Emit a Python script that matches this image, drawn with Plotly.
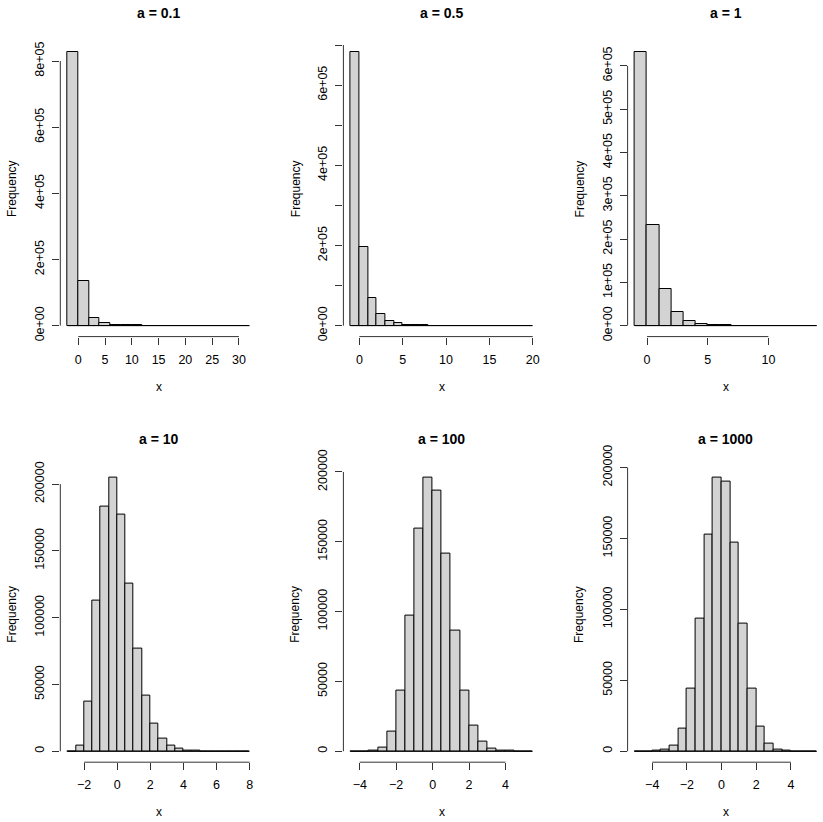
import plotly.graph_objects as go

W, H = 823, 822
FONT = "Liberation Sans, Arial, Helvetica, sans-serif"

# ---------------- data ----------------
titles = ["a = 0.1", "a = 0.5", "a = 1", "a = 10", "a = 100", "a = 1000"]

# bin start and bin width for each panel
bin_start = [-2, -1, -1, -3, -4.5, -5]
bin_width = [2, 1, 1, 0.5, 0.5, 0.5]

counts_a01 = [827550, 134650, 24010, 8090, 3215, 1350, 612, 280, 130, 60, 28,
              12, 6, 3, 1, 0, 1]
counts_a05 = [682690, 197100, 69800, 28400, 12100, 5380, 2430, 1110, 510, 240,
              110, 52, 24, 11, 5, 2, 1, 0, 0, 0, 1]
counts_a1 = [632120, 232540, 85550, 31470, 11580, 4260, 1570, 577, 212, 78, 29,
             11, 4, 1, 1]
counts_a10 = [67, 4559, 37014, 112660, 182900, 204900, 177300, 125300, 76700,
              41800, 20630, 9460, 4056, 1649, 638, 238, 85, 29, 10, 3, 1, 1]
counts_a100 = [2, 33, 400, 2930, 13762, 43613, 97430, 159150, 195980, 186980,
               141480, 86650, 43720, 18480, 6630, 2048, 549, 130, 27, 4]
counts_a1000 = [1, 14, 128, 859, 4255, 15760, 44009, 93594, 152700, 192880,
                190040, 147140, 90180, 44010, 17230, 5452, 1397, 292, 50, 7, 1]
all_counts = [counts_a01, counts_a05, counts_a1, counts_a10, counts_a100, counts_a1000]

xticks = [
    [0, 5, 10, 15, 20, 25, 30],
    [0, 5, 10, 15, 20],
    [0, 5, 10],
    [-2, 0, 2, 4, 6, 8],
    [-4, -2, 0, 2, 4],
    [-4, -2, 0, 2, 4],
]
yticks = [
    [0, 200000, 400000, 600000, 800000],
    [0, 100000, 200000, 300000, 400000, 500000, 600000, 700000],
    [0, 100000, 200000, 300000, 400000, 500000, 600000],
    [0, 50000, 100000, 150000, 200000],
    [0, 50000, 100000, 150000, 200000],
    [0, 50000, 100000, 150000, 200000],
]
yticklabels = [
    ["0e+00", "2e+05", "4e+05", "6e+05", "8e+05"],
    ["0e+00", "", "2e+05", "", "4e+05", "", "6e+05", ""],
    ["0e+00", "1e+05", "2e+05", "3e+05", "4e+05", "5e+05", "6e+05"],
    ["0", "50000", "100000", "150000", "200000"],
    ["0", "50000", "100000", "150000", "200000"],
    ["0", "50000", "100000", "150000", "200000"],
]

# ---------------- layout geometry (pixels) ----------------
col_left = [60.3, 343.4, 627.6]
col_w = 196.6
row_top = [41.0, 466.6]
row_h = 295.6

fig = go.Figure()
annotations = []
shapes = []

for i in range(6):
    r, c = divmod(i, 3)
    k = i + 1
    xa = "x" if k == 1 else f"x{k}"
    ya = "y" if k == 1 else f"y{k}"
    cnt = all_counts[i]
    b0, bw = bin_start[i], bin_width[i]
    edges = [b0 + j * bw for j in range(len(cnt) + 1)]
    centers = [(edges[j] + edges[j + 1]) / 2 for j in range(len(cnt))]

    fig.add_trace(go.Bar(
        x=centers, y=cnt, width=[bw] * len(cnt),
        marker=dict(color="#D3D3D3", line=dict(color="black", width=1)),
        xaxis=xa, yaxis=ya, showlegend=False, hoverinfo="skip",
    ))
    # baseline of the (near-)empty bins
    fig.add_trace(go.Scatter(
        x=[edges[0], edges[-1]], y=[0, 0], mode="lines",
        line=dict(color="black", width=1),
        xaxis=xa, yaxis=ya, showlegend=False, hoverinfo="skip",
    ))

    lo, hi = edges[0], edges[-1]
    span = hi - lo
    xr = [lo - 0.04 * span, hi + 0.04 * span]
    left = col_left[c]
    right = left + col_w
    if right > W:
        frac = (W - left) / col_w
        xr = [xr[0], xr[0] + frac * (xr[1] - xr[0])]
        right = W
    ymax = max(cnt)
    yr = [-0.04 * ymax, 1.04 * ymax]
    top = row_top[r]
    bot = top + row_h

    axis_common = dict(showgrid=False, zeroline=False, showline=False,
                       automargin=False,
                       ticks="outside", ticklen=7, tickwidth=1,
                       tickcolor="#333333",
                       tickfont=dict(family=FONT, size=12.5, color="black"))
    fig.layout[("xaxis" if k == 1 else f"xaxis{k}")] = dict(
        domain=[left / W, right / W], range=xr, anchor=ya,
        tickmode="array", tickvals=xticks[i], ticklabelstandoff=4,
        **axis_common)
    fig.layout[("yaxis" if k == 1 else f"yaxis{k}")] = dict(
        domain=[1 - bot / H, 1 - top / H], range=yr, anchor=xa,
        tickmode="array", tickvals=yticks[i], ticktext=yticklabels[i],
        tickangle=-90, ticklabelstandoff=3, **axis_common)

    # R-style axis lines spanning first..last tick
    shapes.append(dict(type="line", xref=xa, yref=f"{ya} domain",
                       x0=xticks[i][0], x1=xticks[i][-1], y0=0, y1=0,
                       line=dict(color="#333333", width=1)))
    shapes.append(dict(type="line", xref=f"{xa} domain", yref=ya,
                       x0=0, x1=0, y0=yticks[i][0], y1=yticks[i][-1],
                       line=dict(color="#333333", width=1)))

    # title, axis labels
    annotations.append(dict(text=f"<b>{titles[i]}</b>", xref=f"{xa} domain",
                            yref=f"{ya} domain", x=(col_w / 2) / (right - left),
                            y=1, yshift=27.6, xanchor="center", yanchor="middle",
                            showarrow=False,
                            font=dict(family=FONT, size=14, color="black")))
    annotations.append(dict(text="x", xref=f"{xa} domain", yref=f"{ya} domain",
                            x=(col_w / 2) / (right - left), y=0, yshift=-50,
                            xanchor="center", yanchor="middle", showarrow=False,
                            font=dict(family=FONT, size=12, color="black")))
    annotations.append(dict(text="Frequency", xref=f"{xa} domain",
                            yref=f"{ya} domain", x=0, y=0.5, xshift=-48,
                            textangle=-90, xanchor="center", yanchor="middle",
                            showarrow=False,
                            font=dict(family=FONT, size=12, color="black")))

fig.update_layout(
    template="none",
    width=W, height=H, margin=dict(l=0, r=0, t=0, b=0, autoexpand=False),
    paper_bgcolor="white", plot_bgcolor="white",
    bargap=0, barmode="overlay",
    annotations=annotations, shapes=shapes,
    font=dict(family=FONT, size=12, color="black"),
)

fig.write_html("out.html")
